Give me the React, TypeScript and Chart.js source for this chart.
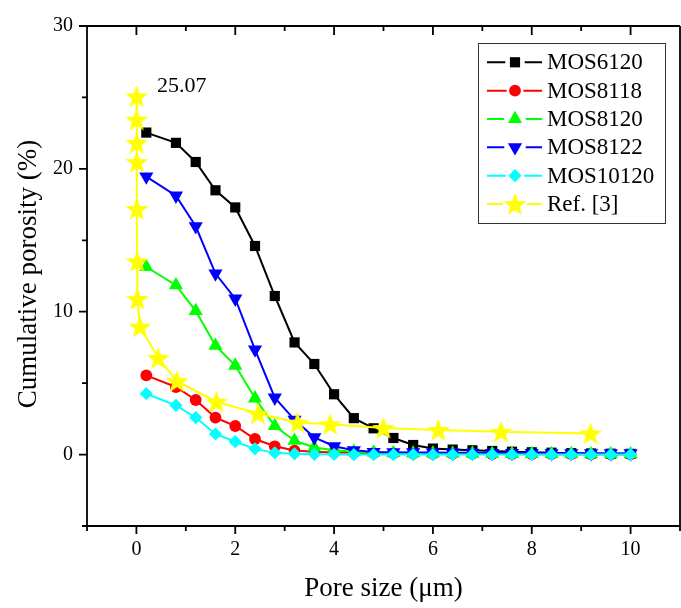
import React, { useEffect, useRef } from 'react';
import { Chart, registerables } from 'chart.js';

Chart.register(...registerables);

// ---- data ----
const poreSize = [0.2, 0.8, 1.2, 1.6, 2.0, 2.4, 2.8, 3.2, 3.6, 4.0, 4.4, 4.8, 5.2, 5.6, 6.0, 6.4, 6.8, 7.2, 7.6, 8.0, 8.4, 8.8, 9.2, 9.6, 10.0];
const mos6120 = [22.54, 21.82, 20.48, 18.5, 17.3, 14.6, 11.1, 7.85, 6.34, 4.22, 2.55, 1.84, 1.16, 0.67, 0.42, 0.35, 0.3, 0.25, 0.2, 0.16, 0.13, 0.1, 0.08, 0.06, 0.05];
const mos8118 = [5.54, 4.73, 3.82, 2.59, 2.0, 1.09, 0.58, 0.28, 0.2, 0.15, 0.12, 0.1, 0.08, 0.07, 0.06, 0.05, 0.05, 0.04, 0.04, 0.03, 0.03, 0.03, 0.02, 0.02, 0.02];
const mos8120 = [13.13, 11.86, 10.06, 7.62, 6.23, 3.94, 2.0, 0.97, 0.5, 0.3, 0.2, 0.15, 0.12, 0.1, 0.09, 0.08, 0.07, 0.06, 0.05, 0.05, 0.04, 0.04, 0.03, 0.03, 0.03];
const mos8122 = [19.46, 18.12, 15.98, 12.67, 10.91, 7.35, 3.98, 2.43, 1.2, 0.58, 0.3, 0.18, 0.16, 0.15, 0.14, 0.13, 0.12, 0.11, 0.1, 0.1, 0.09, 0.09, 0.08, 0.08, 0.08];
const mos10120 = [4.26, 3.45, 2.59, 1.44, 0.9, 0.4, 0.12, 0.05, 0.02, 0.01, 0, 0, 0, 0, 0, 0, 0, 0, 0, 0, 0, 0, 0, 0, 0];
const refPoreSize = [0.005, 0.005, 0.006, 0.007, 0.01, 0.015, 0.02, 0.07, 0.44, 0.82, 1.62, 2.46, 3.26, 3.92, 5.0, 6.11, 7.38, 9.19];
const refPorosity = [25.07, 23.44, 21.82, 20.48, 17.19, 13.53, 10.89, 8.96, 6.76, 5.14, 3.7, 2.87, 2.24, 2.13, 1.86, 1.72, 1.6, 1.48];

const seriesNames = ['MOS6120', 'MOS8118', 'MOS8120', 'MOS8122', 'MOS10120', 'Ref. [3]'];
const xTickLabels = [0, 2, 4, 6, 8, 10];
const yTickLabels = [0, 10, 20, 30];
const peakLabel = '25.07';
const xTitle = 'Pore size (\u03bcm)';
const yTitle = 'Cumulative porosity (%)';

const FONT = '"Liberation Serif", "Times New Roman", serif';

function makeStar(r: number, color: string) {
  const c = document.createElement('canvas');
  const s = Math.ceil(r * 2 + 2);
  c.width = s;
  c.height = s;
  const g = c.getContext('2d')!;
  g.beginPath();
  for (let i = 0; i < 10; i++) {
    const a = -Math.PI / 2 + (i * Math.PI) / 5;
    const rr = i % 2 === 0 ? r : r * 0.42;
    const x = s / 2 + rr * Math.cos(a);
    const y = s / 2 + rr * Math.sin(a) + 1;
    if (i === 0) g.moveTo(x, y);
    else g.lineTo(x, y);
  }
  g.closePath();
  g.fillStyle = color;
  g.fill();
  return c;
}

function drawMarker(ctx: CanvasRenderingContext2D, style: any, x: number, y: number, r: number, rot: number, color: string) {
  ctx.save();
  ctx.fillStyle = color;
  ctx.beginPath();
  if (style instanceof HTMLCanvasElement) {
    ctx.drawImage(style, x - style.width / 2, y - style.height / 2);
    ctx.restore();
    return;
  }
  if (style === 'rect') {
    const s = Math.SQRT1_2 * r;
    ctx.rect(x - s, y - s, 2 * s, 2 * s);
  } else if (style === 'circle') {
    ctx.arc(x, y, r, 0, Math.PI * 2);
  } else if (style === 'triangle') {
    let a = (rot * Math.PI) / 180;
    for (let i = 0; i < 3; i++) {
      const px = x + Math.sin(a) * r;
      const py = y - Math.cos(a) * r;
      if (i === 0) ctx.moveTo(px, py);
      else ctx.lineTo(px, py);
      a += (2 * Math.PI) / 3;
    }
    ctx.closePath();
  } else if (style === 'rectRot') {
    ctx.moveTo(x, y - r);
    ctx.lineTo(x + r, y);
    ctx.lineTo(x, y + r);
    ctx.lineTo(x - r, y);
    ctx.closePath();
  }
  ctx.fill();
  ctx.restore();
}

export default function App() {
  const ref = useRef<HTMLCanvasElement>(null);

  useEffect(() => {
    document.body.style.margin = '0';
    document.body.style.overflow = 'hidden';
    const star = makeStar(12, '#FFFF00');

    const styles: any[] = [
      { color: '#000000', style: 'rect', r: 7.2, rot: 0 },
      { color: '#FF0000', style: 'circle', r: 5.9, rot: 0 },
      { color: '#00FF00', style: 'triangle', r: 8.2, rot: 0 },
      { color: '#0000FF', style: 'triangle', r: 8.2, rot: 180 },
      { color: '#00FFFF', style: 'rectRot', r: 6.6, rot: 0 },
      { color: '#FFFF00', style: star, r: 12, rot: 0 },
    ];
    const allY = [mos6120, mos8118, mos8120, mos8122, mos10120];

    const datasets: any[] = allY.map((arr, i) => ({
      label: seriesNames[i],
      data: poreSize.map((x, k) => ({ x, y: arr[k] })),
      borderColor: styles[i].color,
      backgroundColor: styles[i].color,
      borderWidth: 2,
      pointStyle: styles[i].style,
      pointRadius: styles[i].r,
      pointRotation: styles[i].rot,
      pointBorderWidth: 0,
      pointBackgroundColor: styles[i].color,
      tension: 0,
      order: 6 - i,
    }));
    datasets.push({
      label: seriesNames[5],
      data: refPoreSize.map((x, k) => ({ x, y: refPorosity[k] })),
      borderColor: '#FFFF00',
      backgroundColor: '#FFFF00',
      borderWidth: 2,
      pointStyle: star,
      pointRadius: 12,
      pointBorderWidth: 0,
      tension: 0,
      order: 1,
    });

    const framePlugin = {
      id: 'frame',
      afterDraw(chart: any) {
        const ctx = chart.ctx as CanvasRenderingContext2D;
        const { left, right, top, bottom } = chart.chartArea;
        const xs = chart.scales.x;
        const ys = chart.scales.y;
        ctx.save();
        ctx.strokeStyle = '#000';
        ctx.lineWidth = 1.8;
        ctx.beginPath();
        ctx.moveTo(left, top);
        ctx.lineTo(right, top);
        ctx.moveTo(left, top);
        ctx.lineTo(left, bottom);
        ctx.moveTo(left - 1, bottom);
        ctx.lineTo(right, bottom);
        ctx.moveTo(right, top);
        ctx.lineTo(right, bottom);
        for (let v = -1; v <= 11; v++) {
          const px = xs.getPixelForValue(v);
          const major = v % 2 === 0;
          ctx.moveTo(px, bottom);
          ctx.lineTo(px, bottom + (major ? 8 : 5));
          ctx.moveTo(px, top);
          ctx.lineTo(px, top + (major ? 9 : 5));
        }
        for (let v = -5; v <= 30; v += 5) {
          const py = ys.getPixelForValue(v);
          const major = v % 10 === 0;
          ctx.moveTo(left, py);
          ctx.lineTo(left - (major ? 8 : 5), py);
        }
        ctx.stroke();

        // titles
        ctx.fillStyle = '#000';
        ctx.font = `27px ${FONT}`;
        ctx.textAlign = 'center';
        ctx.textBaseline = 'middle';
        ctx.fillText(xTitle, (left + right) / 2, 589);
        ctx.save();
        ctx.translate(29, (top + bottom) / 2 - 2);
        ctx.rotate(-Math.PI / 2);
        ctx.fillText(yTitle, 0, 0);
        ctx.restore();

        // peak annotation
        ctx.font = `22px ${FONT}`;
        ctx.textAlign = 'left';
        ctx.textBaseline = 'alphabetic';
        ctx.fillText(peakLabel, 157, 92);

        // legend
        ctx.lineWidth = 1;
        ctx.strokeStyle = '#333';
        ctx.strokeRect(478.5, 43.5, 187, 180);
        const lx0 = 487, lx1 = 542, mx = 515;
        for (let i = 0; i < 6; i++) {
          const y = 62.3 + i * 28.35;
          const st = styles[i];
          const gap = i === 5 ? 12 : st.r + 2.5;
          ctx.strokeStyle = st.color;
          ctx.lineWidth = 2;
          ctx.beginPath();
          ctx.moveTo(lx0, y);
          ctx.lineTo(mx - gap, y);
          ctx.moveTo(mx + gap, y);
          ctx.lineTo(lx1, y);
          ctx.stroke();
          drawMarker(ctx, st.style, mx, y, st.r, st.rot, st.color);
          ctx.fillStyle = '#000';
          ctx.font = `23px ${FONT}`;
          ctx.textBaseline = 'middle';
          ctx.fillText(seriesNames[i], 547, y + 1);
        }
        ctx.restore();
      },
    };

    const chart = new Chart(ref.current!, {
      type: 'line',
      data: { datasets },
      options: {
        animation: false,
        responsive: false,
        maintainAspectRatio: false,
        layout: { padding: { top: 22, right: 2, left: 0, bottom: 0 } },
        plugins: { legend: { display: false }, tooltip: { enabled: false } },
        scales: {
          x: {
            type: 'linear',
            min: -1,
            max: 11,
            grid: { display: false, drawTicks: false },
            border: { display: false },
            afterBuildTicks: (s: any) => {
              s.ticks = xTickLabels.map((v) => ({ value: v }));
            },
            afterFit: (s: any) => {
              s.height = 82;
            },
            ticks: {
              padding: 12,
              color: '#000',
              font: { family: FONT, size: 20 },
              maxRotation: 0,
              autoSkip: false,
            },
          },
          y: {
            type: 'linear',
            min: -5,
            max: 30,
            grid: { display: false, drawTicks: false },
            border: { display: false },
            afterBuildTicks: (s: any) => {
              s.ticks = yTickLabels.map((v) => ({ value: v }));
            },
            afterFit: (s: any) => {
              s.width = 87;
            },
            ticks: {
              padding: 14,
              color: '#000',
              font: { family: FONT, size: 20 },
              autoSkip: false,
            },
          },
        },
      },
      plugins: [framePlugin],
    });
    return () => chart.destroy();
  }, []);

  return (
    <div style={{ position: 'absolute', left: 0, top: 0, width: 692, height: 608 }}>
      <canvas ref={ref} width={692} height={608} style={{ display: 'block', width: 692, height: 608 }} />
    </div>
  );
}
